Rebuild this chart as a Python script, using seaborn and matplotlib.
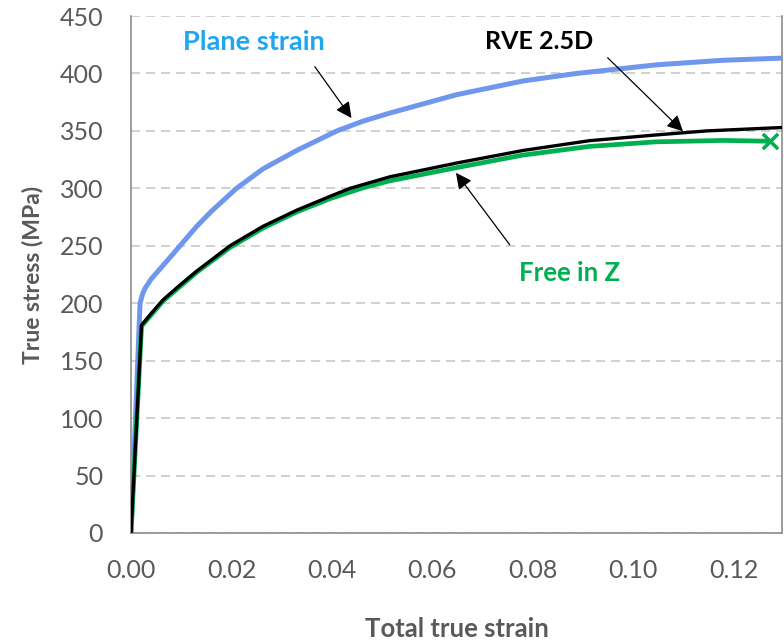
import matplotlib
matplotlib.use("Agg")
import matplotlib.pyplot as plt
import seaborn as sns
from matplotlib.ticker import MultipleLocator, FormatStrFormatter

# ---- data ----
plane_x = [0, 0.0018, 0.0023, 0.0028, 0.0040, 0.0054, 0.0084, 0.00975, 0.0131, 0.0160,
           0.0210, 0.0263, 0.0330, 0.0410, 0.0462, 0.0515, 0.0648, 0.0781, 0.0887,
           0.1046, 0.1179, 0.1298]
plane_y = [0, 200, 208, 213, 221, 228, 243, 250, 267, 280,
           300, 317, 333, 350, 358.5, 365.5, 381.5, 393.5, 400,
           407.5, 411.5, 413.4]

rve_x = [0, 0.0021, 0.0040, 0.0064, 0.0098, 0.0131, 0.0197, 0.0263, 0.0330, 0.0396,
         0.0436, 0.0515, 0.0648, 0.0781, 0.0913, 0.1046, 0.1146, 0.1298]
rve_y = [0, 181, 191, 203, 216, 228, 250, 267, 281, 293,
         300, 310, 322, 333, 341.5, 346.5, 350, 353]

free_x = [0, 0.0021, 0.0064, 0.0131, 0.0197, 0.0263, 0.0330, 0.0396, 0.0462, 0.0515,
          0.0648, 0.0781, 0.0913, 0.1046, 0.1179, 0.1272]
free_y = [0, 180, 202, 227, 248.5, 265.5, 279.5, 291, 300.5, 306.5,
          318, 329, 336.5, 340.5, 341.7, 341.0]

x_ticks = [0.00, 0.02, 0.04, 0.06, 0.08, 0.10, 0.12]
y_ticks = [0, 50, 100, 150, 200, 250, 300, 350, 400, 450]

# ---- style ----
sns.set_style("white")
plt.rcParams["font.family"] = ["Lato", "DejaVu Sans"]

GRAY_TXT = "#595959"
GRAY_AX = "#8c8c8c"
BLUE = "#6f97ee"
GREEN = "#00b050"

fig = plt.figure(figsize=(7.84, 6.41), dpi=100)
ax = fig.add_axes([0.1671, 0.1685, 0.998 - 0.1671, 0.975 - 0.1685])

line_kw = dict(estimator=None, sort=False, solid_joinstyle="round", solid_capstyle="round")
sns.lineplot(x=plane_x, y=plane_y, ax=ax, color=BLUE, lw=3.6, zorder=3, **line_kw)
sns.lineplot(x=free_x, y=free_y, ax=ax, color=GREEN, lw=3.4, zorder=3, **line_kw)
sns.lineplot(x=rve_x, y=rve_y, ax=ax, color="black", lw=2.4, zorder=4, **line_kw)
sns.scatterplot(x=[free_x[-1]], y=[free_y[-1]], ax=ax, marker="x", s=120,
                color=GREEN, linewidth=2.6, zorder=5, clip_on=False)

ax.set_xlim(0, 0.1297)
ax.set_ylim(0, 450)
ax.set_xticks(x_ticks)
ax.set_yticks(y_ticks)
ax.xaxis.set_minor_locator(MultipleLocator(0.01))
ax.xaxis.set_major_formatter(FormatStrFormatter("%.2f"))

ax.grid(axis="y", which="major", color="#c8c8c8", lw=1.2, linestyle=(0, (5.5, 3.5)))
ax.set_axisbelow(True)

for s in ["left", "bottom", "right"]:
    ax.spines[s].set_color(GRAY_AX)
    ax.spines[s].set_linewidth(1.2)
ax.spines["top"].set_visible(False)

ax.tick_params(axis="x", which="major", direction="inout", length=13, width=1.2,
               color=GRAY_AX, labelsize=18, labelcolor=GRAY_TXT, pad=12.5)
ax.tick_params(axis="x", which="minor", direction="in", length=4.5, width=1.2,
               color=GRAY_AX)
ax.tick_params(axis="y", which="major", direction="out", length=8, width=1.2,
               color=GRAY_AX, labelsize=18, labelcolor=GRAY_TXT, pad=12)

ax.set_xlabel("Total true strain", fontsize=18.5, fontweight="bold", color=GRAY_TXT,
              labelpad=25)
ax.set_ylabel("True stress (MPa)", fontsize=16.5, fontweight="bold", color=GRAY_TXT,
              labelpad=12)

arrow = dict(arrowstyle="-|>", color="black", lw=0.9, mutation_scale=24,
             shrinkA=0, shrinkB=0)
ax.annotate("", xy=(0.0439, 361.2), xytext=(0.0366, 405.9), arrowprops=arrow)
ax.annotate("", xy=(0.1099, 349.6), xytext=(0.0949, 413.7), arrowprops=arrow)
ax.annotate("", xy=(0.0647, 313.5), xytext=(0.0754, 250.9), arrowprops=arrow)

ax.text(0.0245, 427.7, "Plane strain", color="#1fa6ee", fontsize=19.5,
        fontweight="bold", ha="center", va="center")
ax.text(0.0812, 427.7, "RVE 2.5D", color="black", fontsize=18,
        fontweight="bold", ha="center", va="center")
ax.text(0.0874, 226.5, "Free in Z", color=GREEN, fontsize=18.5,
        fontweight="bold", ha="center", va="center")

fig.savefig("out.png", dpi=100)
